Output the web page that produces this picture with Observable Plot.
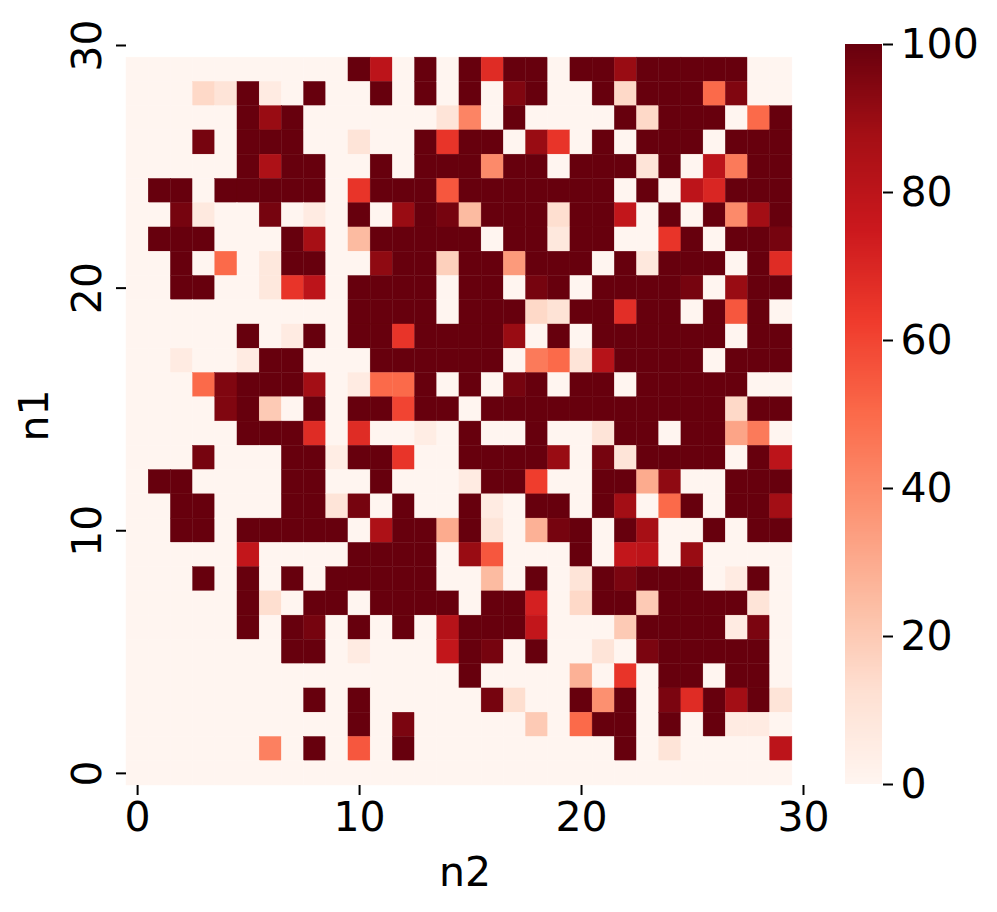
<!DOCTYPE html>
<html>
<head>
<meta charset="utf-8">
<script src="https://cdn.jsdelivr.net/npm/d3@7"></script>
<script src="https://cdn.jsdelivr.net/npm/@observablehq/plot@0.6"></script>
<style>
  html, body { margin: 0; padding: 0; background: #fff; }
  #chart { display: flex; width: 997px; height: 912px; }
  #chart svg { display: block; flex: none; background: #fff; }
</style>
</head>
<body>
<div id="chart"></div>
<script>
// Values read top row first (n1 = 29 down to n1 = 0); each row runs n2 = 0..29.
const heatRows = [
  [0,0,0,0,0,0,0,0,0,0, 100,80,0,100,0,100,68,100,100,0, 100,100,90,100,100,100,100,100,0,0],
  [0,0,0,15,10,100,6,0,100,0, 0,100,0,100,0,100,0,95,100,0, 0,100,15,100,100,100,50,95,0,0],
  [0,0,0,0,0,100,90,100,0,0, 0,0,0,0,10,42,0,100,0,0, 0,0,100,15,100,100,100,0,50,100],
  [0,0,0,97,0,100,100,100,0,0, 10,0,0,100,65,100,100,0,90,65, 0,100,0,100,100,100,0,100,100,100],
  [0,0,0,0,0,100,85,100,100,0, 0,100,0,100,100,100,40,100,100,0, 100,100,100,10,100,0,80,45,100,100],
  [0,100,100,0,100,100,100,100,100,0, 65,100,100,100,55,100,100,100,100,100, 100,100,0,100,0,80,70,100,100,100],
  [0,0,97,7,0,0,97,0,6,0, 100,0,90,100,97,25,100,100,100,13, 100,100,78,0,100,0,100,40,88,100],
  [0,100,100,100,0,0,0,100,87,0, 25,100,100,100,100,100,0,100,100,8, 100,100,0,0,65,100,0,100,100,97],
  [0,0,100,0,50,0,8,100,100,0, 0,92,100,100,18,100,100,35,100,100, 100,0,100,8,100,100,100,0,100,68],
  [0,0,100,100,0,0,8,65,80,0, 100,100,100,100,0,100,100,0,97,100, 0,100,100,100,100,97,0,90,100,100],
  [0,0,0,0,0,0,0,0,0,0, 100,100,100,100,0,100,100,100,15,11, 100,100,67,100,100,0,100,55,100,0],
  [0,0,0,0,0,100,0,6,100,0, 100,100,65,100,100,100,100,90,0,100, 0,100,100,100,100,100,100,0,100,100],
  [0,0,6,0,0,6,100,100,0,0, 0,100,100,100,100,100,100,0,45,50, 10,82,100,100,100,100,0,100,100,100],
  [0,0,0,50,95,100,100,100,88,0, 6,50,50,100,0,100,0,97,100,0, 100,100,0,100,100,100,100,100,0,0],
  [0,0,0,0,95,100,20,0,100,0, 100,100,60,100,100,0,100,100,100,100, 100,100,100,100,100,100,100,15,100,100],
  [0,0,0,0,0,100,100,100,68,0, 68,0,0,5,0,100,0,0,100,0, 0,10,100,100,0,100,100,32,45,0],
  [0,0,0,97,0,0,0,100,100,5, 100,100,65,0,0,100,100,100,100,90, 0,97,10,100,100,100,100,0,100,80],
  [0,100,100,0,0,0,0,100,100,0, 0,100,0,0,0,6,100,100,62,0, 0,100,100,30,92,0,0,100,100,100],
  [0,0,100,100,0,0,0,100,100,10, 97,0,100,0,0,100,6,0,100,100, 0,100,88,0,50,100,0,100,100,88],
  [0,0,100,100,0,100,100,100,100,100, 0,85,100,100,30,100,10,0,28,97, 100,0,100,87,0,0,100,0,100,100],
  [0,0,0,0,0,78,0,0,0,0, 100,100,100,100,0,90,55,0,0,0, 100,0,78,80,0,90,0,0,0,0],
  [0,0,0,100,0,100,0,100,0,100, 100,100,100,100,0,0,25,0,100,0, 10,100,96,100,100,100,0,6,100,0],
  [0,0,0,0,0,100,13,0,100,100, 0,100,100,100,100,0,100,100,72,0, 15,100,100,20,100,100,100,100,10,0],
  [0,0,0,0,0,100,0,100,97,0, 100,0,100,0,82,100,100,100,78,0, 0,0,20,100,100,100,100,6,96,0],
  [0,0,0,0,0,0,0,100,100,0, 6,0,0,0,78,100,97,0,100,0, 0,10,0,96,100,100,100,100,100,0],
  [0,0,0,0,0,0,0,0,0,0, 0,0,0,0,0,100,0,0,0,0, 28,0,65,0,100,100,0,100,100,0],
  [0,0,0,0,0,0,0,0,100,0, 100,0,0,0,0,0,97,13,0,0, 100,38,100,0,96,68,100,88,100,10],
  [0,0,0,0,0,0,0,0,0,0, 100,0,96,0,0,0,0,0,20,0, 50,100,100,0,100,0,100,6,6,0],
  [0,0,0,0,0,0,43,0,100,0, 55,0,100,0,0,0,0,0,0,0, 0,0,100,0,10,0,0,0,0,80],
  [0,0,0,0,0,0,0,0,0,0, 0,0,0,0,0,0,0,0,0,0, 0,0,0,0,0,0,0,0,0,0]
];
const axisTicks = [0, 10, 20, 30];
const barTicks = [0, 20, 40, 60, 80, 100];
const redsDomain = [0, 12.5, 25, 37.5, 50, 62.5, 75, 87.5, 100];
const redsRange = ["#fff5f0","#fee0d2","#fcbba1","#fc9272","#fb6a4a","#ef3b2c","#cb181d","#a50f15","#67000d"];

const cells = heatRows.flatMap((row, i) =>
  row.map((value, n2) => ({n1: heatRows.length - 1 - i, n2, value})));

const FONT = "DejaVu Sans";
const SIZE = 41;
const colorOpts = {type: "linear", domain: redsDomain, range: redsRange, interpolate: "rgb"};

const main = Plot.plot({
  width: 835, height: 912,
  marginLeft: 126, marginRight: 32, marginTop: 45, marginBottom: 127,
  style: {fontFamily: FONT, fontSize: SIZE + "px", color: "#000", background: "#fff", overflow: "visible"},
  x: {domain: [-0.5, 30], range: [126, 803]},
  y: {domain: [-0.5, 30], range: [785, 45]},
  color: colorOpts,
  marks: [
    Plot.rect(cells, {
      x1: d => d.n2 - 0.5, x2: d => d.n2 + 0.5,
      y1: d => d.n1 - 0.5, y2: d => d.n1 + 0.5,
      fill: "value", stroke: "value", strokeWidth: 0.4
    }),
    Plot.axisX(axisTicks, {
      anchor: "bottom", tickSize: 10, tickPadding: 6, strokeWidth: 2,
      fontSize: SIZE, label: "n2", labelAnchor: "center", labelArrow: "none", labelOffset: 100,
      tickFormat: d => String(d)
    }),
    Plot.axisY(axisTicks, {
      anchor: "left", tickSize: 10, tickPadding: 16, strokeWidth: 2, tickRotate: -90,
      fontSize: SIZE, label: "n1", labelAnchor: "center", labelArrow: "none", labelOffset: 108,
      tickFormat: d => String(d)
    })
  ]
});

const barSteps = d3.range(0, 100, 0.25);
const bar = Plot.plot({
  width: 162, height: 912,
  marginLeft: 10, marginRight: 115, marginTop: 44, marginBottom: 128,
  style: {fontFamily: FONT, fontSize: SIZE + "px", color: "#000", background: "#fff", overflow: "visible"},
  x: {domain: [0, 1], range: [10, 47], axis: null},
  y: {domain: [0, 100], range: [784, 44]},
  color: colorOpts,
  marks: [
    Plot.rect(barSteps, {
      x1: 0, x2: 1, y1: d => d, y2: d => d + 0.25, fill: d => d + 0.125,
      shapeRendering: "crispEdges"
    }),
    Plot.axisY(barTicks, {
      anchor: "right", tickSize: 10, tickPadding: 8, strokeWidth: 2,
      fontSize: SIZE, label: null, tickFormat: d => String(d)
    })
  ]
});

document.getElementById("chart").append(main, bar);
</script>
</body>
</html>
